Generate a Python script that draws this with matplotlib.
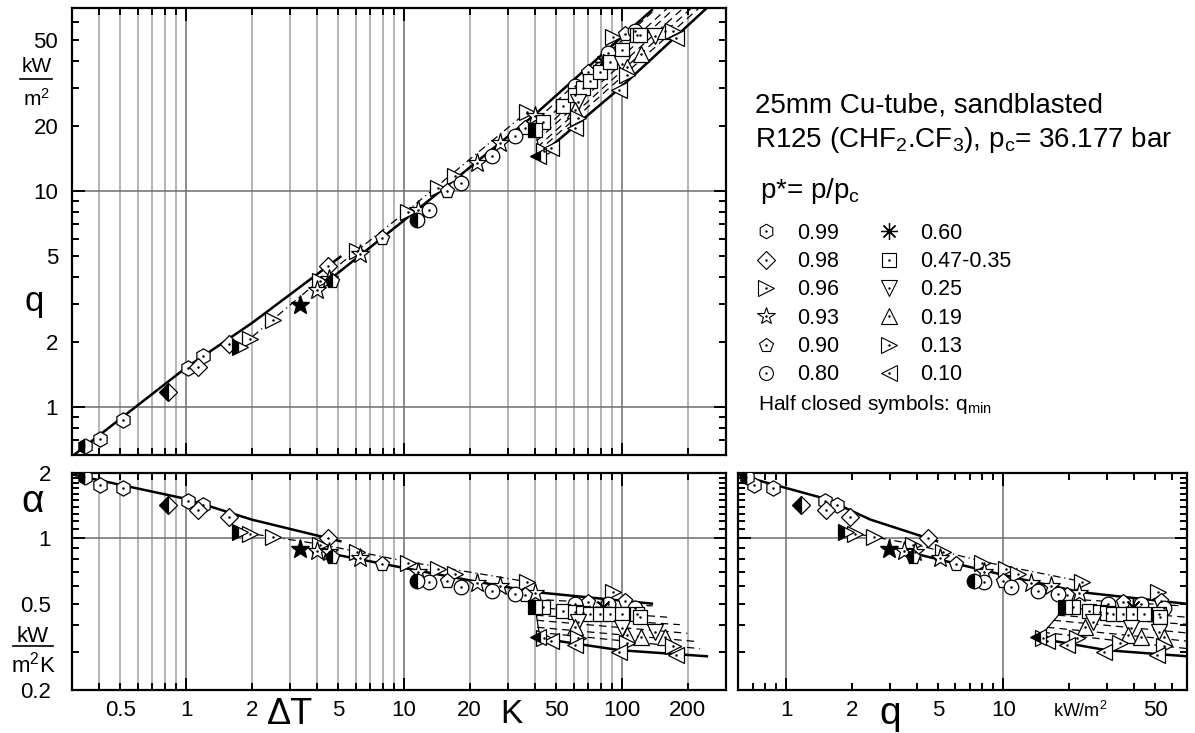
import matplotlib as mp
mp.use('Agg')
import matplotlib.pyplot as plt
from matplotlib.ticker import FixedLocator, FuncFormatter, NullFormatter
from matplotlib.lines import Line2D
import numpy as np

plt.rcParams['font.family'] = ['Liberation Sans', 'DejaVu Sans']
plt.rcParams['mathtext.fontset'] = 'custom'
plt.rcParams['mathtext.rm'] = 'Liberation Sans'
plt.rcParams['mathtext.it'] = 'Liberation Sans'
plt.rcParams['mathtext.default'] = 'regular'

# measured points: superheat dT [K] and alpha [kW/m2K]; q = alpha*dT [kW/m2]
dT_099 = [0.344, 0.403, 0.514, 1.02, 1.20]
a_099 = [1.91, 1.77, 1.70, 1.48, 1.43]
dT_098 = [0.827, 1.135, 1.57, 4.48]
a_098 = [1.42, 1.35, 1.25, 1.00]
dT_096 = [1.77, 1.97, 2.51, 4.1, 6.09, 10.4, 14.3, 17.1, 36.7, 90.9]
a_096 = [1.07, 1.05, 1.01, 0.935, 0.862, 0.767, 0.72, 0.683, 0.627, 0.564]
dT_093 = [3.33, 3.99, 4.52, 6.28, 11.6, 21.6, 27.6, 39.9]
a_093 = [0.89, 0.87, 0.862, 0.81, 0.70, 0.62, 0.60, 0.558]
dT_090 = [4.67, 7.93, 15.7, 35.9, 69.8, 103.0]
a_090 = [0.817, 0.759, 0.634, 0.546, 0.507, 0.515]
dT_080 = [11.5, 13.0, 18.3, 25.3, 32.3, 60.9, 86.3, 115.0]
a_080 = [0.634, 0.627, 0.594, 0.57, 0.552, 0.50, 0.50, 0.476]
dT_060 = [82.0]
a_060 = [0.481]
dT_047 = [39.9, 43.4, 53.6, 60.9, 66.0, 71.3, 79.2, 88.0, 99.6, 117.0, 121.0]
a_047 = [0.481, 0.481, 0.461, 0.456, 0.452, 0.45, 0.447, 0.447, 0.447, 0.447, 0.435]
dT_025 = [63.0, 100.0, 141.0]
a_025 = [0.41, 0.385, 0.369]
dT_019 = [61.0, 105.0, 122.0, 157.0]
a_019 = [0.389, 0.357, 0.352, 0.35]
dT_013 = [44.0, 63.0, 105.0, 171.0]
a_013 = [0.346, 0.346, 0.328, 0.32]
dT_010 = [41.2, 47.0, 61.0, 97.0, 176.0]
a_010 = [0.35, 0.336, 0.321, 0.30, 0.289]

p_labels = ['0.99', '0.98', '0.96', '0.93', '0.90', '0.80',
            '0.60', '0.47-0.35', '0.25', '0.19', '0.13', '0.10']
p_markers = ['h', 'D', '>', '*', 'p', 'o', (8, 2, 0), 's', 'v', '^', '>', '<']
p_dT = [dT_099, dT_098, dT_096, dT_093, dT_090, dT_080,
        dT_060, dT_047, dT_025, dT_019, dT_013, dT_010]
p_a = [a_099, a_098, a_096, a_093, a_090, a_080,
       a_060, a_047, a_025, a_019, a_013, a_010]
p_half = [True, True, True, True, True, True, False, True, False, False, False, True]

# correlation curves (dT, alpha)
fit_high_dT = [0.30, 1.0, 2.0, 5.1]
fit_high_a = [1.97, 1.52, 1.22, 0.97]
fit_096_dT = [1.77, 4.1, 10.4, 37.0]
fit_096_a = [1.07, 0.94, 0.78, 0.63]
fit_mid_dT = [4.6, 10.0, 20.0, 40.0, 137.0]
fit_mid_a = [0.85, 0.73, 0.64, 0.565, 0.50]
fit_010_dT = [42.0, 98.0, 245.0]
fit_010_a = [0.346, 0.305, 0.286]
band_dT = [[45.0, 138.0], [40.0, 161.0], [40.3, 184.0], [40.6, 199.0], [40.8, 215.0], [41.0, 228.0]]
band_a = [[0.52, 0.488], [0.48, 0.433], [0.442, 0.40], [0.419, 0.365], [0.389, 0.335], [0.369, 0.31]]
qmin_dT = [40.0, 42.0]
qmin_a = [0.48, 0.346]

MS = {'h': 11, 'D': 9.5, '>': 12, '<': 12, '^': 12, 'v': 12, '*': 14, 'p': 11, 'o': 10.5, 's': 10}


def log_ticks(axis, lo, hi, labels, extra_minor=()):
    major = [10.0**k for k in range(-2, 4) if lo * 0.999 <= 10.0**k <= hi * 1.001]
    minor = [m * 10.0**k for k in range(-2, 4) for m in range(2, 10)
             if lo * 0.999 <= m * 10.0**k <= hi * 1.001]
    minor += list(extra_minor)
    axis.set_major_locator(FixedLocator(major))
    axis.set_minor_locator(FixedLocator(minor))
    fmt = FuncFormatter(lambda v, p: ('%g' % v) if any(abs(v / l - 1) < 1e-6 for l in labels) else '')
    axis.set_major_formatter(fmt)
    axis.set_minor_formatter(fmt)


def draw(ax, mode):
    def xy(dT, a):
        dT = np.array(dT)
        a = np.array(a)
        if mode == 'q':
            return dT, dT * a
        if mode == 'a':
            return dT, a
        return dT * a, a
    for d, a in zip(band_dT, band_a):
        ax.plot(*xy(d, a), color='black', lw=0.9, dashes=(6, 4), zorder=2)
    ax.plot(*xy(qmin_dT, qmin_a), color='black', lw=0.9, zorder=2)
    ax.plot(*xy(fit_096_dT, fit_096_a), color='black', lw=0.9, dashes=(6, 3, 1, 3), zorder=2)
    for d, a in [(fit_high_dT, fit_high_a), (fit_mid_dT, fit_mid_a), (fit_010_dT, fit_010_a)]:
        ax.plot(*xy(d, a), color='black', lw=1.8, zorder=3)
    for mk, d, a, half in zip(p_markers, p_dT, p_a, p_half):
        x, y = xy(d, a)
        if isinstance(mk, tuple):
            ax.plot(x, y, ls='none', marker=mk, ms=12, mec='black', mew=1.0, zorder=4)
            continue
        ms = MS[mk]
        s = 1 if half else 0
        ax.plot(x[s:], y[s:], ls='none', marker=mk, ms=ms, mfc='white', mec='black', mew=0.9, zorder=4)
        ax.plot(x[s:], y[s:], ls='none', marker='.', ms=1.6, color='black', zorder=5)
        if half:
            if mk == '*':
                ax.plot(x[:1], y[:1], ls='none', marker=mk, ms=ms, mfc='black', mec='black', zorder=4)
            else:
                ax.plot(x[:1], y[:1], ls='none', marker=mk, ms=ms, fillstyle='left', mfc='black',
                        mfcalt='white', mec='black', mew=0.9, zorder=4)


fig = plt.figure(figsize=(11.95, 7.33), dpi=100)
ax_q = fig.add_axes([0.0603, 0.3793, 0.5473, 0.6098])
ax_a = fig.add_axes([0.0603, 0.0587, 0.5473, 0.2960])
ax_aq = fig.add_axes([0.6176, 0.0587, 0.3757, 0.2960])

draw(ax_q, 'q')
draw(ax_a, 'a')
draw(ax_aq, 'aq')

alpha_extra = [1.1, 1.2, 1.3, 1.4, 1.5, 1.6, 1.7, 1.8, 1.9]
for ax in (ax_q, ax_a, ax_aq):
    ax.set_xscale('log')
    ax.set_yscale('log')
    for s in ax.spines.values():
        s.set_linewidth(1.6)
    ax.tick_params(which='both', direction='in', top=True, right=True, width=1.4, labelsize=16)
    ax.tick_params(which='major', length=9)
    ax.tick_params(which='minor', length=5)

ax_q.set_xlim(0.3, 300)
ax_q.set_ylim(0.6, 70)
log_ticks(ax_q.xaxis, 0.3, 300, [])
ax_q.xaxis.set_major_formatter(NullFormatter())
ax_q.xaxis.set_minor_formatter(NullFormatter())
log_ticks(ax_q.yaxis, 0.6, 70, [1, 2, 5, 10, 20, 50])
ax_q.tick_params(axis='y', which='both', pad=10)

ax_a.set_xlim(0.3, 300)
ax_a.set_ylim(0.2, 2)
log_ticks(ax_a.xaxis, 0.3, 300, [0.5, 1, 2, 5, 10, 20, 50, 100, 200])
log_ticks(ax_a.yaxis, 0.2, 2, [0.2, 0.5, 1, 2], alpha_extra)
ax_a.tick_params(axis='y', which='both', pad=15)
ax_a.tick_params(axis='x', which='both', pad=7)

ax_aq.set_xlim(0.6, 70)
ax_aq.set_ylim(0.2, 2)
log_ticks(ax_aq.xaxis, 0.6, 70, [1, 2, 5, 10, 50])
log_ticks(ax_aq.yaxis, 0.2, 2, [], alpha_extra)
ax_aq.yaxis.set_major_formatter(NullFormatter())
ax_aq.yaxis.set_minor_formatter(NullFormatter())
ax_aq.tick_params(axis='x', which='both', pad=7)

for ax in (ax_q, ax_a):
    ax.grid(which='minor', axis='x', color='#b4b4b4', lw=1.4)
for ax in (ax_q, ax_a, ax_aq):
    ax.grid(which='major', axis='both', color='#6e6e6e', lw=1.1)
    ax.set_axisbelow(True)

# axis captions
fig.text(0.029, 0.588, 'q', fontsize=25, ha='center', va='center')
fig.text(0.0305, 0.902, 'kW', fontsize=15, ha='center', va='baseline')
fig.add_artist(Line2D([0.0167, 0.0435], [0.892, 0.892], color='black', lw=1.2))
fig.text(0.0305, 0.855, 'm$^2$', fontsize=15, ha='center', va='baseline')

fig.text(0.0275, 0.315, 'α', fontsize=28, ha='center', va='center')
fig.text(0.0275, 0.124, 'kW', fontsize=16, ha='center', va='baseline')
fig.add_artist(Line2D([0.011, 0.044], [0.119, 0.119], color='black', lw=1.2))
fig.text(0.0275, 0.083, 'm$^2$K', fontsize=16, ha='center', va='baseline')

ax_a.text(3.0, -0.115, 'ΔT', fontsize=26, ha='center', va='center', transform=ax_a.get_xaxis_transform())
ax_a.text(31.0, -0.115, 'K', fontsize=24, ha='center', va='center', transform=ax_a.get_xaxis_transform())
ax_aq.text(3.0, -0.11, 'q', fontsize=28, ha='center', va='center', transform=ax_aq.get_xaxis_transform())
ax_aq.text(22.5, -0.095, 'kW/m$^2$', fontsize=13, ha='center', va='center', transform=ax_aq.get_xaxis_transform())

# description and legend
fig.text(0.632, 0.847, '25mm Cu-tube, sandblasted', fontsize=20, va='baseline')
fig.text(0.632, 0.7995, 'R125 (CHF$_2$.CF$_3$), p$_c$= 36.177 bar', fontsize=20, va='baseline')
fig.text(0.636, 0.73, 'p*= p/p$_c$', fontsize=20, va='baseline')

handles = []
for mk in p_markers:
    if isinstance(mk, tuple):
        handles.append(Line2D([], [], ls='none', marker=mk, ms=12, mec='black', mew=0.9))
    else:
        h = Line2D([], [], ls='none', marker=mk, ms=MS[mk] * 0.95, mfc='white', mec='black', mew=0.8)
        handles.append((h, Line2D([], [], ls='none', marker='.', ms=1.5, color='black')))
fig.legend(handles, p_labels, ncol=2, loc='upper left', bbox_to_anchor=(0.632, 0.696),
           frameon=False, fontsize=15.5, handlelength=1.0, handletextpad=0.95,
           columnspacing=1.8, labelspacing=0.34, borderpad=0, borderaxespad=0)
fig.text(0.634, 0.441, 'Half closed symbols: q$_{min}$', fontsize=15, va='baseline')

plt.savefig('out.png', dpi=100)
